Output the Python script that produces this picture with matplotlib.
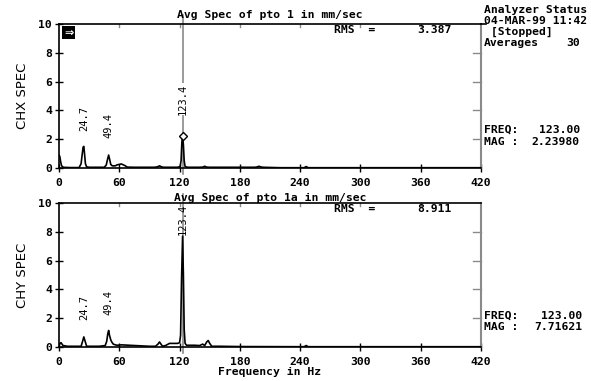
"""Recreation of a two-channel averaged spectrum screen (CHX / CHY)."""

import matplotlib

matplotlib.use("Agg")
import matplotlib.pyplot as plt  # noqa: E402

# ---- data -------------------------------------------------------------
chx_freq = [0, 0.8, 1.6, 2.4, 3.2, 4.5, 6, 8, 10, 20, 22, 23, 24, 24.7, 25.4,
            26.3, 27.5, 30, 45, 47, 48.3, 49.4, 50.4, 51.5, 53, 56, 58, 60, 62,
            64, 66, 68, 75, 80, 95, 98, 100, 102, 104, 118, 120.5, 121.5, 122.3,
            123.0, 123.8, 124.6, 125.5, 128, 140, 143, 145, 147, 150, 195, 197,
            199, 201, 203, 220, 244, 246, 248, 420]
chx_amp = [0.9, 0.8, 0.45, 0.2, 0.1, 0.05, 0.04, 0.04, 0.03, 0.03, 0.3, 0.9,
           1.45, 1.5, 1.0, 0.3, 0.08, 0.05, 0.05, 0.2, 0.6, 0.9, 0.6, 0.25,
           0.15, 0.15, 0.22, 0.25, 0.28, 0.22, 0.15, 0.06, 0.05, 0.05, 0.05,
           0.08, 0.15, 0.08, 0.05, 0.05, 0.1, 0.5, 1.8, 2.24, 1.6, 0.5, 0.1,
           0.05, 0.05, 0.06, 0.12, 0.06, 0.05, 0.05, 0.07, 0.12, 0.07, 0.05,
           0.02, 0.02, 0.1, 0.02, 0.02]

chy_freq = [0, 1, 2, 3, 4, 6, 8, 10, 14, 22, 23.5, 24.7, 26, 27.5, 30, 40, 46,
            47.5, 48.5, 49.4, 50.3, 51.5, 52.5, 54, 56, 58, 62, 70, 90, 96,
            98.5, 100, 101.5, 103, 106, 110, 118, 120, 121, 122, 123, 123.8,
            124.6, 125.5, 127, 135, 140, 143, 145, 147, 148.5, 150, 152, 160,
            180, 244, 246, 248, 420]
chy_amp = [0.1, 0.25, 0.3, 0.2, 0.1, 0.08, 0.05, 0.05, 0.05, 0.05, 0.4, 0.7,
           0.4, 0.05, 0.05, 0.05, 0.1, 0.4, 0.9, 1.15, 0.8, 0.5, 0.35, 0.2,
           0.15, 0.12, 0.15, 0.12, 0.05, 0.05, 0.2, 0.35, 0.2, 0.05, 0.1, 0.25,
           0.25, 0.3, 0.8, 4.8, 7.7, 5.0, 1.2, 0.25, 0.12, 0.12, 0.1, 0.2, 0.1,
           0.35, 0.45, 0.25, 0.05, 0.05, 0.03, 0.02, 0.1, 0.02, 0.02]

peak_labels = ["24.7", "49.4", "123.4"]
peak_freqs = [24.7, 49.4, 123.4]
chx_label_y = [2.6, 2.1, 3.7]
chy_label_y = [1.9, 2.2, 7.8]

cursor_freq = 123.0
chx_mag = 2.23980
chy_mag = 7.71621
chx_rms = 3.387
chy_rms = 8.911
x_ticks = [0, 60, 120, 180, 240, 300, 360, 420]
y_ticks = [0, 2, 4, 6, 8, 10]

# ---- styling ----------------------------------------------------------
W, H = 591, 381
MONO = "DejaVu Sans Mono"
FS = 8.2
GRAY = "#8a8a8a"

fig = plt.figure(figsize=(W / 100, H / 100), dpi=100)


def px(x, y):
    return x / W, 1 - y / H


def ftext(x, y, s, **kw):
    kw.setdefault("fontsize", FS)
    kw.setdefault("family", MONO)
    kw.setdefault("fontweight", "bold")
    kw.setdefault("va", "center")
    fig.text(*px(x, y), s, **kw)


def panel(rect, freq, amp, label_y, ylabel, title, rms, mag, top_panel):
    ax = fig.add_axes(rect)
    ax.plot(freq, amp, color="black", lw=1.2, zorder=3)
    ax.set_xlim(0, 420)
    ax.set_ylim(0, 10)
    ax.set_xticks(x_ticks)
    ax.set_yticks(y_ticks)
    for lab in ax.get_xticklabels() + ax.get_yticklabels():
        lab.set_family(MONO)
        lab.set_fontweight("bold")
        lab.set_fontsize(FS)
    ax.tick_params(direction="inout", length=6, width=1, pad=2, color="black")
    ax.tick_params(axis="x", pad=4)
    for side in ["left", "bottom", "top"]:
        ax.spines[side].set_linewidth(1.2)
    ax.spines["right"].set_color(GRAY)
    ax.spines["right"].set_linewidth(1.5)
    # gray ticks on the right and top edges
    for yv in y_ticks[1:-1]:
        ax.plot([412, 420], [yv, yv], color=GRAY, lw=1, clip_on=False)
    for xv in x_ticks[1:-1]:
        ax.plot([xv, xv], [9.8, 10], color=GRAY, lw=1, clip_on=False)
    ax.set_ylabel(ylabel, family="DejaVu Sans", fontsize=9.5, labelpad=7)
    ax.set_title(title, family=MONO, fontweight="bold", fontsize=FS,
                 pad=4 if top_panel else 1.5)
    # cursor
    ax.plot([cursor_freq, cursor_freq], [-0.4, 10.6], color=GRAY, lw=1.2,
            clip_on=False, zorder=2)
    for lab, f, y in zip(peak_labels, peak_freqs, label_y):
        box = dict(facecolor="white", edgecolor="none", pad=0.3)
        if not top_panel and f == peak_freqs[-1]:
            box = None
        ax.text(f, y, lab, rotation=90, ha="center", va="bottom",
                family=MONO, fontsize=7.5, zorder=5, bbox=box)
    if top_panel:
        ax.plot([cursor_freq], [mag], marker="D", ms=4.5, mfc="white",
                mec="black", mew=1, zorder=6)
    ax.text(0.70, 0.955, "RMS  =", transform=ax.transAxes, family=MONO,
            fontweight="bold", fontsize=FS, ha="center", va="center")
    ax.text(0.93, 0.955, f"{rms:.3f}", transform=ax.transAxes, family=MONO,
            fontweight="bold", fontsize=FS, ha="right", va="center")
    return ax


ax1 = panel([59 / W, 1 - 168 / H, 422 / W, 144 / H], chx_freq, chx_amp,
            chx_label_y, "CHX SPEC", "Avg Spec of pto 1 in mm/sec",
            chx_rms, chx_mag, True)
ax2 = panel([59 / W, 1 - 347 / H, 422 / W, 144 / H], chy_freq, chy_amp,
            chy_label_y, "CHY SPEC", "Avg Spec of pto 1a in mm/sec",
            chy_rms, chy_mag, False)
ax2.set_xlabel("Frequency in Hz", family=MONO, fontweight="bold",
               fontsize=FS, labelpad=0)

# arrow box in top-left corner
ax1.text(0.012, 0.94, "⇒", transform=ax1.transAxes, color="white",
         family="DejaVu Sans", fontweight="bold", fontsize=8, ha="left",
         va="center", bbox=dict(facecolor="black", edgecolor="none",
                                boxstyle="square,pad=0.15"))

# top line continues to the status panel
fig.add_artist(plt.Line2D([481 / W, 486 / W], [1 - 24 / H] * 2,
                          color="black", lw=1.2))

# status panel
ftext(484, 10, "Analyzer Status")
ftext(484, 21, "04-MAR-99 11:42")
ftext(484, 32, " [Stopped]")
ftext(484, 43, "Averages")
ftext(580, 43, "30", ha="right")
ftext(484, 130, "FREQ:")
ftext(580, 130, f"{cursor_freq:.2f}", ha="right")
ftext(484, 142, "MAG :")
ftext(580, 142, f"{chx_mag:.5f}", ha="right")
ftext(484, 316, "FREQ:")
ftext(582, 316, f"{cursor_freq:.2f}", ha="right")
ftext(484, 327, "MAG :")
ftext(582, 327, f"{chy_mag:.5f}", ha="right")

fig.savefig("out.png", dpi=100)
